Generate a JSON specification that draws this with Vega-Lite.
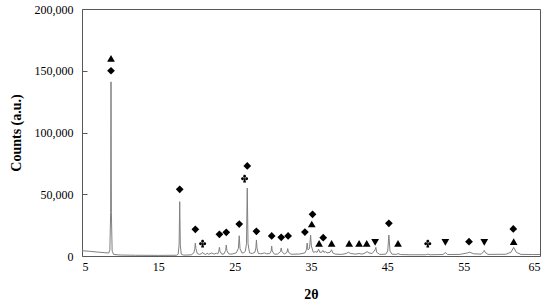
{
  "$schema": "https://vega.github.io/schema/vega-lite/v6.json",
  "autosize": "none",
  "width": 458,
  "height": 247,
  "padding": {"left": 82, "top": 9, "right": 10, "bottom": 51},
  "background": "white",
  "config": {
    "view": {"stroke": "#595959", "strokeWidth": 1},
    "font": "Liberation Serif",
    "axis": {"grid": false, "domain": false, "labelFont": "Liberation Serif", "titleFont": "Liberation Serif", "labelColor": "black", "titleColor": "black", "labelFontSize": 12, "titleFontSize": 14, "titleFontWeight": "bold"}
  },
  "datasets": {
    "curve": [
      {"t":5,"c":4300},{"t":6,"c":3800},{"t":7,"c":3200},{"t":8,"c":2700},{"t":8.5,"c":2400},{"t":8.65,"c":5000},{"t":8.75,"c":35000},{"t":8.8,"c":141000},{"t":8.85,"c":35000},{"t":8.95,"c":4000},{"t":9.15,"c":1200},{"t":10,"c":800},{"t":12,"c":600},{"t":15,"c":500},
      {"t":17.4,"c":600},{"t":17.6,"c":1500},{"t":17.72,"c":9000},{"t":17.8,"c":44000},{"t":17.88,"c":9000},{"t":18.0,"c":1500},{"t":18.3,"c":700},{"t":19.3,"c":900},{"t":19.65,"c":2500},{"t":19.78,"c":6000},{"t":19.85,"c":10500},{"t":19.92,"c":6000},{"t":20.1,"c":2000},{"t":20.4,"c":1300},{"t":20.7,"c":2000},{"t":20.8,"c":3000},{"t":20.9,"c":2000},{"t":21.2,"c":1300},{"t":21.4,"c":2200},{"t":21.6,"c":1400},{"t":22.0,"c":2500},{"t":22.3,"c":1500},{"t":22.6,"c":2200},{"t":22.8,"c":1800},{"t":22.93,"c":4000},{"t":23.0,"c":7000},{"t":23.07,"c":4000},{"t":23.3,"c":1500},{"t":23.6,"c":1700},{"t":23.82,"c":4500},{"t":23.9,"c":8900},{"t":23.98,"c":4500},{"t":24.2,"c":1800},{"t":24.5,"c":1500},{"t":24.8,"c":1800},{"t":25.2,"c":2500},{"t":25.48,"c":6000},{"t":25.6,"c":16400},{"t":25.7,"c":6000},{"t":25.95,"c":2500},{"t":26.2,"c":2500},{"t":26.4,"c":4000},{"t":26.55,"c":10000},{"t":26.65,"c":55000},{"t":26.75,"c":10000},{"t":26.95,"c":2500},{"t":27.3,"c":2000},{"t":27.65,"c":3000},{"t":27.78,"c":6500},{"t":27.85,"c":13000},{"t":27.92,"c":6500},{"t":28.1,"c":2000},{"t":28.4,"c":1800},{"t":28.6,"c":2000},{"t":28.9,"c":2500},{"t":29.2,"c":1800},{"t":29.6,"c":2000},{"t":29.78,"c":4000},{"t":29.85,"c":8000},{"t":29.92,"c":4000},{"t":30.2,"c":1500},{"t":30.6,"c":1500},{"t":31.0,"c":3500},{"t":31.1,"c":6500},{"t":31.2,"c":3500},{"t":31.5,"c":1500},{"t":31.85,"c":3000},{"t":31.95,"c":6000},{"t":32.05,"c":3000},{"t":32.4,"c":1400},{"t":33.5,"c":1600},{"t":34.2,"c":2500},{"t":34.4,"c":5000},{"t":34.5,"c":10500},{"t":34.6,"c":5000},{"t":34.8,"c":6000},{"t":34.95,"c":17000},{"t":35.05,"c":8000},{"t":35.3,"c":3000},{"t":35.6,"c":3500},{"t":35.8,"c":3000},{"t":36.0,"c":5500},{"t":36.15,"c":3000},{"t":36.4,"c":3000},{"t":36.55,"c":4500},{"t":36.7,"c":3000},{"t":36.9,"c":3500},{"t":37.1,"c":2500},{"t":37.5,"c":3000},{"t":37.7,"c":5000},{"t":37.85,"c":2500},{"t":38.2,"c":1500},{"t":39.0,"c":1300},{"t":39.6,"c":2000},{"t":39.9,"c":3000},{"t":40.2,"c":2000},{"t":40.5,"c":1800},{"t":40.8,"c":1500},{"t":41.3,"c":2000},{"t":41.7,"c":1500},{"t":42.1,"c":2500},{"t":42.35,"c":3500},{"t":42.6,"c":2500},{"t":43.0,"c":2000},{"t":43.4,"c":5000},{"t":43.5,"c":7000},{"t":43.6,"c":3000},{"t":44.0,"c":1300},{"t":44.8,"c":1500},{"t":45.05,"c":4000},{"t":45.2,"c":17000},{"t":45.35,"c":4000},{"t":45.6,"c":1500},{"t":46.2,"c":1300},{"t":46.4,"c":2000},{"t":46.7,"c":1200},{"t":48,"c":1000},{"t":50.0,"c":1000},{"t":50.3,"c":1500},{"t":50.6,"c":1000},{"t":52.3,"c":1200},{"t":52.6,"c":2800},{"t":52.9,"c":1200},{"t":54.5,"c":1300},{"t":55.5,"c":2500},{"t":55.8,"c":3000},{"t":56.3,"c":1800},{"t":57.3,"c":1500},{"t":57.6,"c":3500},{"t":57.7,"c":4500},{"t":57.8,"c":3000},{"t":58.2,"c":1300},{"t":60.5,"c":1400},{"t":61.2,"c":3000},{"t":61.55,"c":7000},{"t":61.9,"c":3000},{"t":62.5,"c":1300},{"t":64,"c":1200},{"t":65,"c":1200}
    ],
    "marks": [
      {"t":8.8,"c":160000,"s":"tu"},{"t":35.1,"c":25900,"s":"tu"},{"t":36.06,"c":10300,"s":"tu"},{"t":37.7,"c":10300,"s":"tu"},{"t":40.0,"c":10300,"s":"tu"},{"t":41.3,"c":10300,"s":"tu"},{"t":42.3,"c":10300,"s":"tu"},{"t":46.4,"c":10300,"s":"tu"},{"t":61.55,"c":11600,"s":"tu"},
      {"t":8.8,"c":150000,"s":"d"},{"t":17.8,"c":54000,"s":"d"},{"t":19.85,"c":21600,"s":"d"},{"t":23.0,"c":17600,"s":"d"},{"t":23.9,"c":19200,"s":"d"},{"t":25.6,"c":25900,"s":"d"},{"t":26.65,"c":72900,"s":"d"},{"t":27.85,"c":20000,"s":"d"},{"t":29.85,"c":16200,"s":"d"},{"t":31.1,"c":15100,"s":"d"},{"t":32.0,"c":16200,"s":"d"},{"t":34.2,"c":19400,"s":"d"},{"t":35.2,"c":33800,"s":"d"},{"t":36.6,"c":14800,"s":"d"},{"t":45.2,"c":26500,"s":"d"},{"t":55.7,"c":11600,"s":"d"},{"t":61.5,"c":21900,"s":"d"},
      {"t":43.4,"c":11000,"s":"td"},{"t":52.6,"c":11000,"s":"td"},{"t":57.7,"c":11000,"s":"td"}
    ],
    "clubs": [
      {"t":20.8,"c":10300,"s":"c"},{"t":26.3,"c":62900,"s":"c"},{"t":50.3,"c":10300,"s":"c"}
    ]
  },
  "layer": [
    {
      "data": {"name": "curve"},
      "mark": {"type": "line", "color": "#808080", "strokeWidth": 1, "interpolate": "linear"},
      "encoding": {
        "x": {"field": "t", "type": "quantitative", "scale": {"domain": [5, 65], "nice": false, "zero": false},
          "axis": {"title": "2θ", "values": [5, 15, 25, 35, 45, 55, 65], "ticks": false, "labelPadding": 5, "titlePadding": 15}},
        "y": {"field": "c", "type": "quantitative", "scale": {"domain": [0, 200000], "nice": false},
          "axis": {"title": "Counts (a.u.)", "values": [0, 25000, 50000, 75000, 100000, 125000, 150000, 175000, 200000],
            "labelExpr": "datum.value % 50000 == 0 ? format(datum.value, ',') : ''", "tickSize": -5, "tickColor": "#595959", "labelPadding": 14, "titlePadding": 11}}
      }
    },
    {
      "data": {"name": "marks"},
      "mark": {"type": "point", "filled": true, "color": "black", "opacity": 1, "size": 60},
      "encoding": {
        "x": {"field": "t", "type": "quantitative"},
        "y": {"field": "c", "type": "quantitative"},
        "shape": {"field": "s", "type": "nominal", "scale": {"domain": ["tu", "d", "td", "c"], "range": ["triangle-up", "diamond", "triangle-down", "M-0.3,-0.45a0.3,0.3 0 1,0 0.6,0a0.3,0.3 0 1,0 -0.6,0M-0.74,0.1a0.3,0.3 0 1,0 0.6,0a0.3,0.3 0 1,0 -0.6,0M0.14,0.1a0.3,0.3 0 1,0 0.6,0a0.3,0.3 0 1,0 -0.6,0M0,-0.3L-0.32,0.9L0.32,0.9Z"]}, "legend": null}
      }
    },
    {
      "data": {"name": "clubs"},
      "mark": {"type": "point", "filled": true, "color": "black", "opacity": 1, "size": 90},
      "encoding": {
        "x": {"field": "t", "type": "quantitative"},
        "y": {"field": "c", "type": "quantitative"},
        "shape": {"field": "s", "type": "nominal", "legend": null}
      }
    }
  ]
}
